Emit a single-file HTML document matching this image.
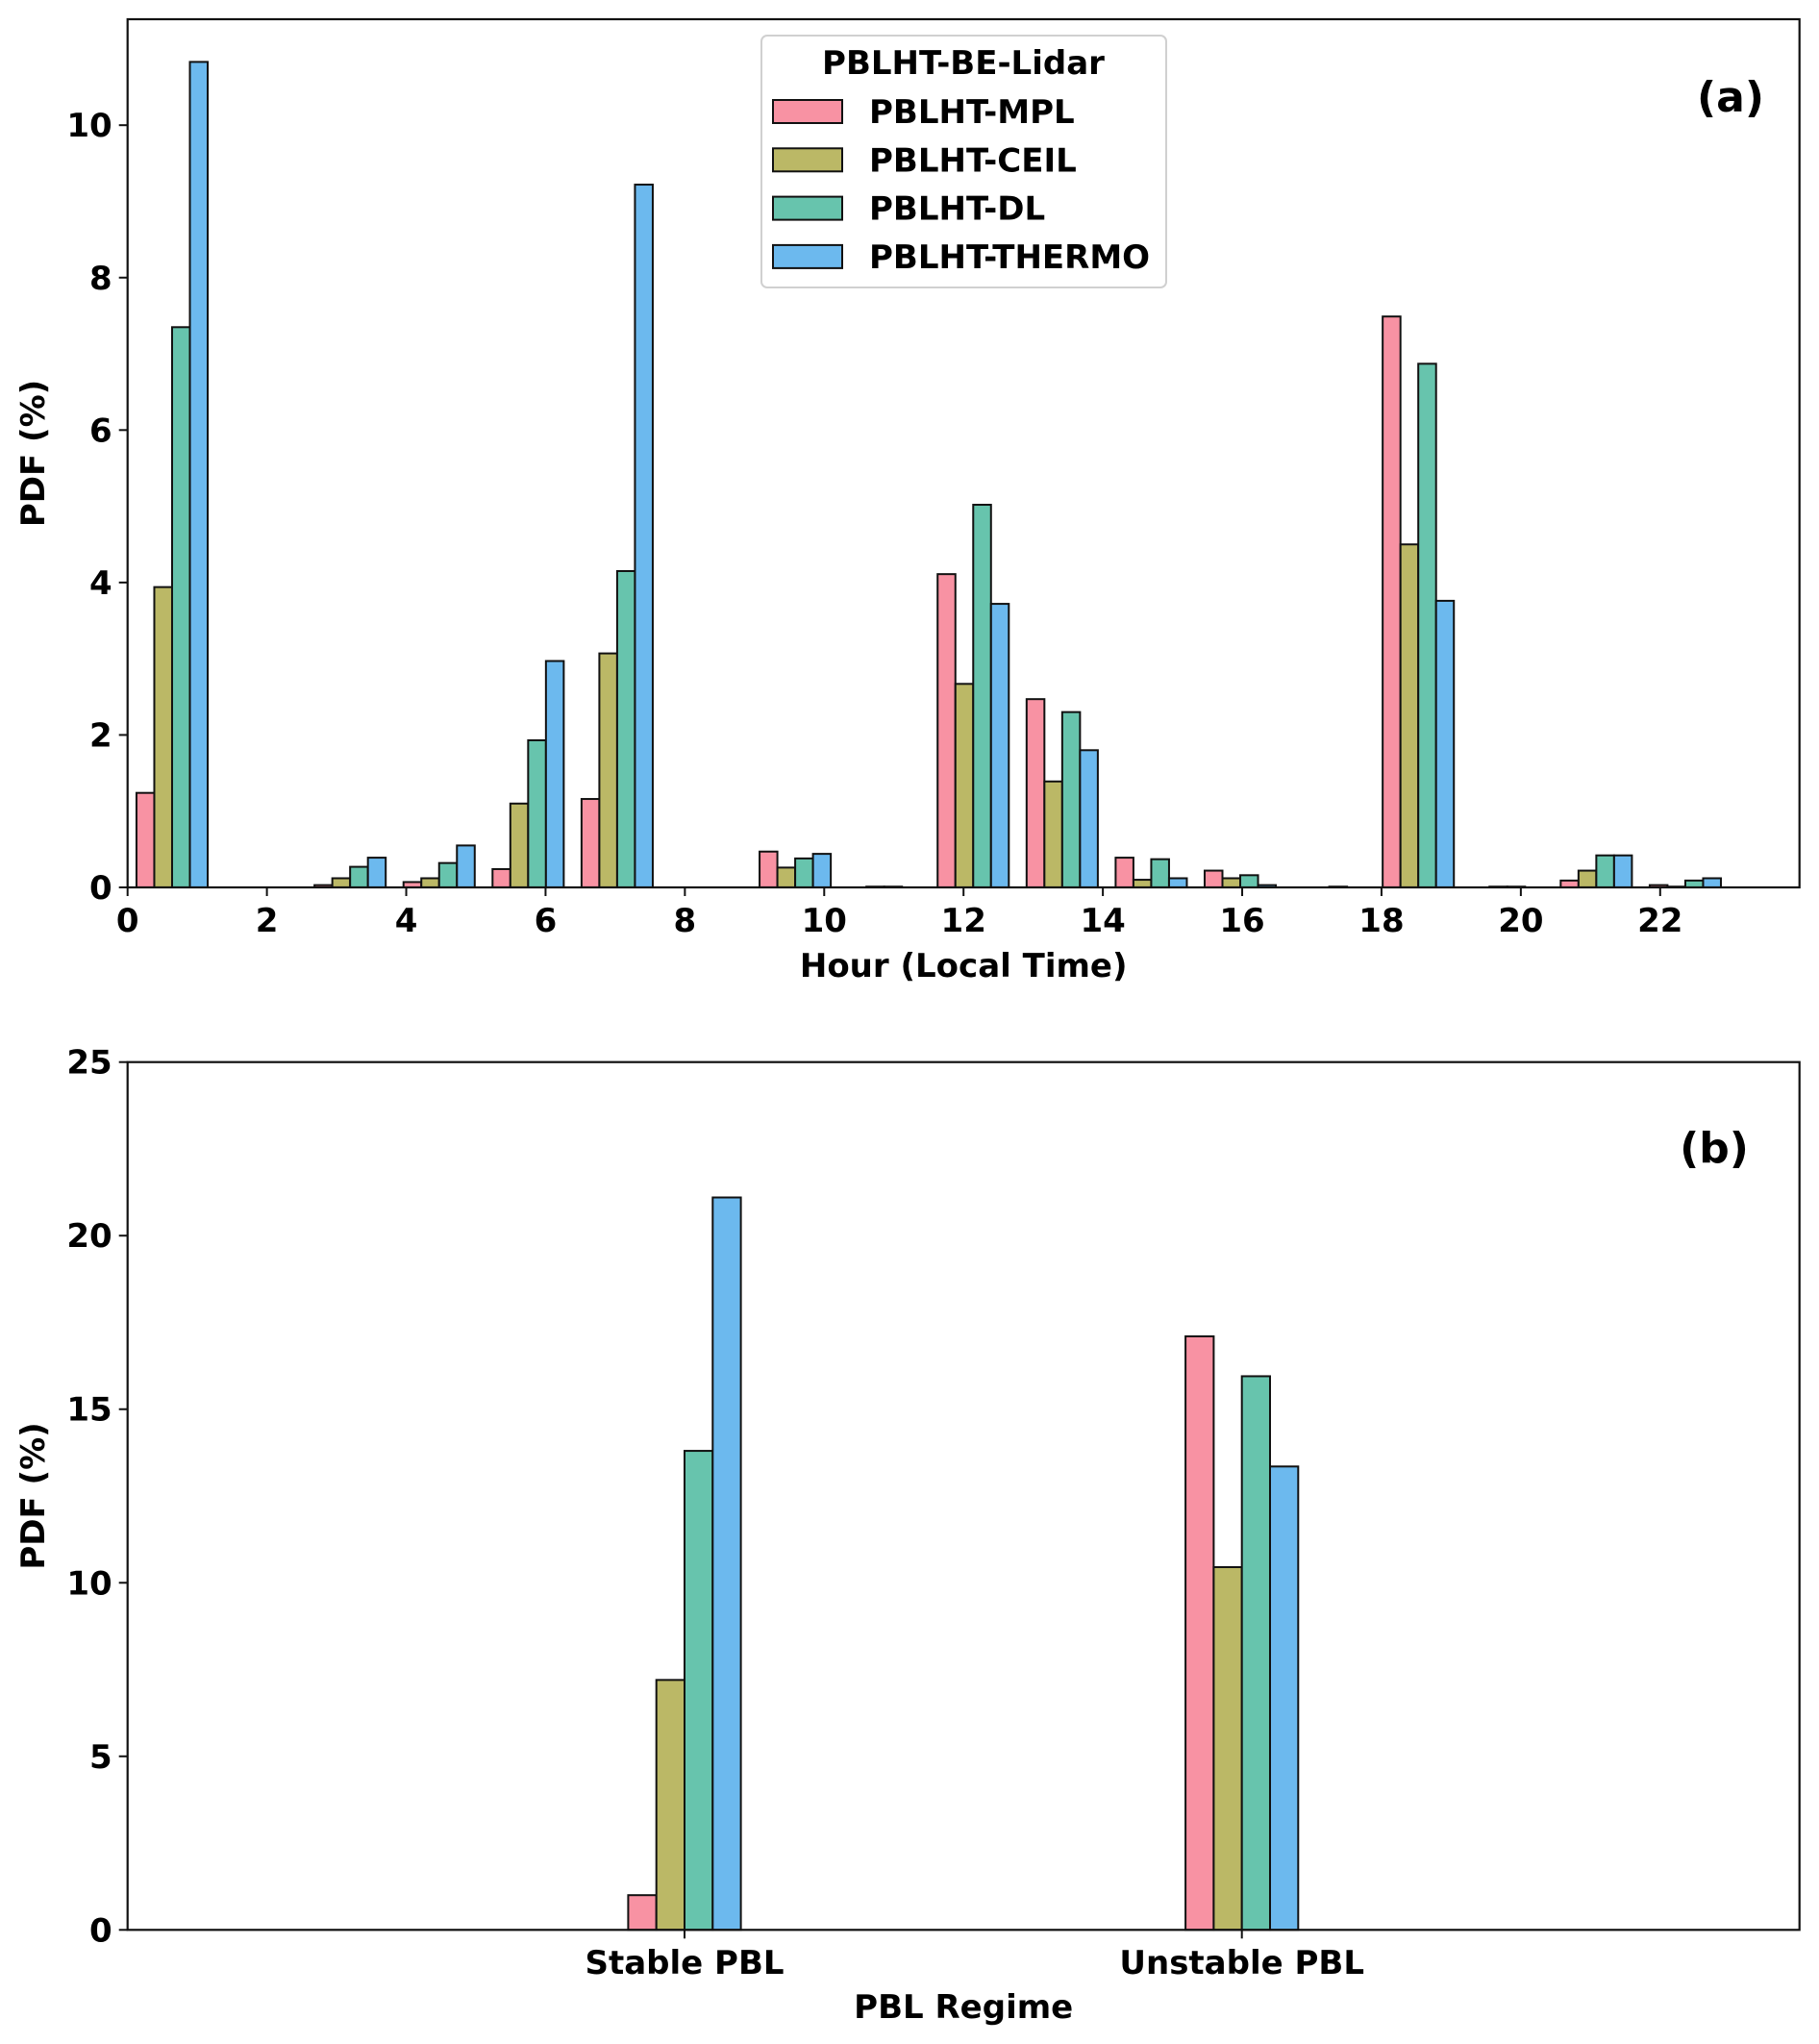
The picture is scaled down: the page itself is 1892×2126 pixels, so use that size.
<!DOCTYPE html>
<html><head><meta charset="utf-8"><style>
html,body{margin:0;padding:0;background:#fff;}
svg{display:block;font-family:"DejaVu Sans","Liberation Sans",sans-serif;font-weight:bold;}
</style></head><body>
<svg id="chart" width="1892" height="2126" viewBox="0 0 1892 2126" xmlns="http://www.w3.org/2000/svg">
<g id="pa"></g>
<g id="pb"></g>
</svg>
<script>
// Panel (a): 18 hourly bins spanning 0..23 h
const seriesNames = ["PBLHT-MPL","PBLHT-CEIL","PBLHT-DL","PBLHT-THERMO"];
const seriesColors = ["#f892a3","#bbb866","#67c4ad","#6cb9ee"];
const mplA    = [1.24,0,0.03,0.07,0.24,1.16,0,0.47,0,4.11,2.47,0.39,0.22,0,7.49,0,0.09,0.03];
const ceilA   = [3.94,0,0.12,0.12,1.10,3.07,0,0.26,0.01,2.67,1.39,0.10,0.12,0,4.50,0.01,0.22,0.01];
const dlA     = [7.35,0,0.27,0.32,1.93,4.15,0,0.38,0.01,5.02,2.30,0.37,0.16,0.01,6.87,0.01,0.42,0.09];
const thermoA = [10.83,0,0.39,0.55,2.97,9.22,0,0.44,0,3.72,1.80,0.12,0.03,0,3.76,0,0.42,0.12];
const xTicksA = [0,2,4,6,8,10,12,14,16,18,20,22];
const yTicksA = [0,2,4,6,8,10];
// Panel (b)
const categoriesB = ["Stable PBL","Unstable PBL"];
const mplB    = [1.0,17.1];
const ceilB   = [7.2,10.45];
const dlB     = [13.8,15.95];
const thermoB = [21.1,13.35];
const yTicksB = [0,5,10,15,20,25];

const FS=34;
const NS="http://www.w3.org/2000/svg";
function mk(parent,tag,attrs,text){const e=document.createElementNS(NS,tag);for(const k in attrs)e.setAttribute(k,attrs[k]);if(text!==undefined)e.textContent=text;parent.appendChild(e);return e;}

// ---- Panel A ----
const pa=document.getElementById('pa');
const A={L:132.7,R:1871.7,T:20,B:923,xmin:0,xmax:24,ymin:0,ymax:11.39};
const xA=v=>A.L+(v-A.xmin)/(A.xmax-A.xmin)*(A.R-A.L);
const yA=v=>A.B-(v-A.ymin)/(A.ymax-A.ymin)*(A.B-A.T);
const binW=23/18;
const seriesA=[mplA,ceilA,dlA,thermoA];
seriesA.forEach((arr,s)=>{
  arr.forEach((v,k)=>{
    if(v<=0)return;
    const x0=xA(k*binW+0.1*binW+s*0.2*binW), x1=xA(k*binW+0.1*binW+(s+1)*0.2*binW);
    const r=mk(pa,'rect',{x:x0,y:yA(v),width:x1-x0,height:yA(0)-yA(v),fill:seriesColors[s],stroke:'#111','stroke-width':2});
    
    
  });
});
let fr=mk(pa,'rect',{x:A.L,y:A.T,width:A.R-A.L,height:A.B-A.T,fill:'none',stroke:'#111','stroke-width':2.2});


xTicksA.forEach(t=>{
  mk(pa,'line',{x1:xA(t),x2:xA(t),y1:A.B,y2:A.B+9,stroke:'#111','stroke-width':2});
  const tl=mk(pa,'text',{x:xA(t),y:A.B+46,'text-anchor':'middle','font-size':FS},String(t));
  
  
});
yTicksA.forEach(t=>{
  mk(pa,'line',{x1:A.L-9,x2:A.L,y1:yA(t),y2:yA(t),stroke:'#111','stroke-width':2});
  const tl=mk(pa,'text',{x:A.L-16,y:yA(t)+12,'text-anchor':'end','font-size':FS},String(t));
  
  
});
let t1=mk(pa,'text',{x:(A.L+A.R)/2,y:1016,'text-anchor':'middle','font-size':FS},'Hour (Local Time)');


let t2=mk(pa,'text',{x:0,y:0,'text-anchor':'middle','font-size':FS,transform:`translate(46,${(A.T+A.B)/2}) rotate(-90)`},'PDF (%)');


let t3=mk(pa,'text',{x:1800,y:116,'text-anchor':'middle','font-size':44},'(a)');


// legend
const lg=mk(pa,'g',{});


mk(lg,'rect',{x:792,y:37,width:421,height:262,rx:6,fill:'#fff','fill-opacity':0.85,stroke:'#d0d0d0','stroke-width':2});
mk(lg,'text',{x:1002,y:77,'text-anchor':'middle','font-size':FS},'PBLHT-BE-Lidar');
seriesNames.forEach((n,i)=>{
  const cy=116+i*50.3;
  const g=mk(lg,'g',{});
  
  
  mk(g,'rect',{x:804,y:cy-12,width:72,height:24,fill:seriesColors[i],stroke:'#111','stroke-width':2});
  mk(g,'text',{x:904,y:cy+12,'font-size':FS},n);
});

// ---- Panel B ----
const pb=document.getElementById('pb');
const B={L:132.7,R:1871.7,T:1104.7,B:2007.3,ymin:0,ymax:25,c0:712,unit:579.7};
const xB=v=>B.c0+v*B.unit;
const yB=v=>B.B-(v-B.ymin)/(B.ymax-B.ymin)*(B.B-B.T);
const seriesB=[mplB,ceilB,dlB,thermoB];
const bwPx=29.3;
seriesB.forEach((arr,s)=>{
  arr.forEach((v,c)=>{
    const x0=xB(c)+(s-2)*bwPx;
    const r=mk(pb,'rect',{x:x0,y:yB(v),width:bwPx,height:yB(0)-yB(v),fill:seriesColors[s],stroke:'#111','stroke-width':2});
    
    
  });
});
fr=mk(pb,'rect',{x:B.L,y:B.T,width:B.R-B.L,height:B.B-B.T,fill:'none',stroke:'#111','stroke-width':2.2});


categoriesB.forEach((c,i)=>{
  mk(pb,'line',{x1:xB(i),x2:xB(i),y1:B.B,y2:B.B+9,stroke:'#111','stroke-width':2});
  const tl=mk(pb,'text',{x:xB(i),y:2053,'text-anchor':'middle','font-size':FS},c);
  
  
});
yTicksB.forEach(t=>{
  mk(pb,'line',{x1:B.L-9,x2:B.L,y1:yB(t),y2:yB(t),stroke:'#111','stroke-width':2});
  const tl=mk(pb,'text',{x:B.L-16,y:yB(t)+12,'text-anchor':'end','font-size':FS},String(t));
  
  
});
let t4=mk(pb,'text',{x:(B.L+B.R)/2,y:2099,'text-anchor':'middle','font-size':FS},'PBL Regime');


let t5=mk(pb,'text',{x:0,y:0,'text-anchor':'middle','font-size':FS,transform:`translate(46,${(B.T+B.B)/2}) rotate(-90)`},'PDF (%)');


let t6=mk(pb,'text',{x:1783,y:1209,'text-anchor':'middle','font-size':44},'(b)');


</script>
</body></html>
